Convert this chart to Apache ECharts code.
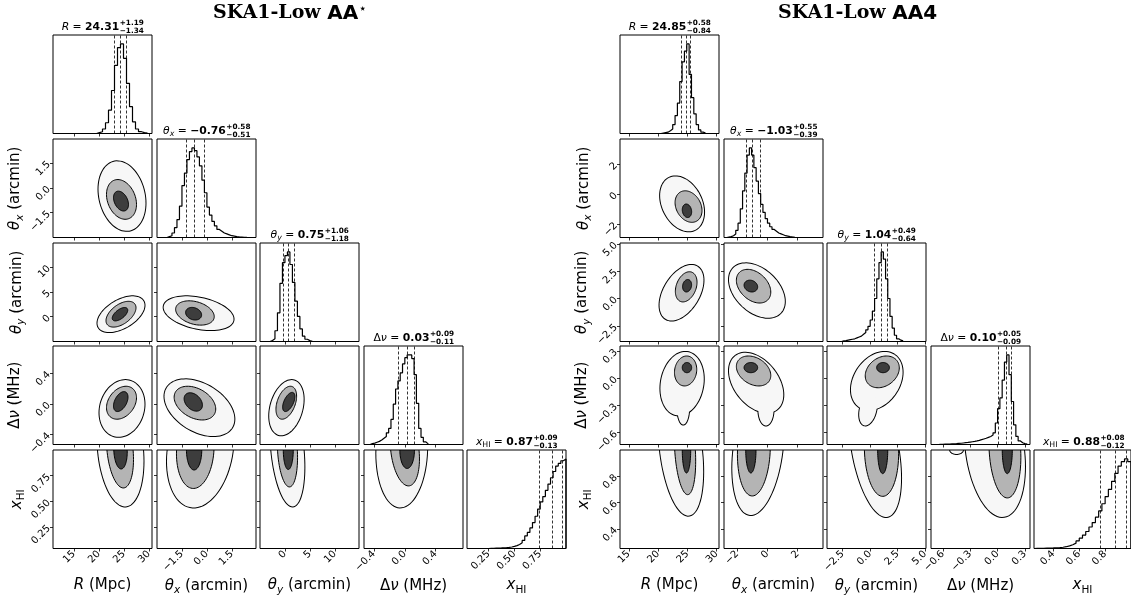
<!DOCTYPE html>
<html>
<head>
<meta charset="utf-8">
<script src="https://cdn.jsdelivr.net/npm/echarts@6/dist/echarts.min.js"></script>
<style>html,body{margin:0;padding:0;background:#fff}#main{width:1131px;height:598px}</style>
</head>
<body>
<div id="main"></div>
<script>
// parameter order: R, theta_x, theta_y, delta_nu, x_HI

// ---- axis ranges and ticks ----
var minL = [10.8, -3.0, -5.0, -0.53, 0.04];
var maxL = [30.6, 2.95, 14.85, 0.755, 1.0];
var ticksL = [[15, 20, 25, 30], [-1.5, 0, 1.5], [0, 5, 10], [-0.4, 0, 0.4], [0.25, 0.5, 0.75]];
var decL = [0, 1, 0, 1, 2];

var minR = [13.5, -2.88, -3.93, -0.73, 0.25];
var maxR = [30.4, 3.68, 5.08, 0.355, 1.0];
var ticksR = [[15, 20, 25, 30], [-2, 0, 2], [-2.5, 0, 2.5, 5], [-0.6, -0.3, 0, 0.3], [0.4, 0.6, 0.8]];
var decR = [0, 0, 1, 1, 1];

// ---- median, +err, -err ----
var summaryL = [[24.31, 1.19, 1.34], [-0.76, 0.58, 0.51], [0.75, 1.06, 1.18], [0.03, 0.09, 0.11], [0.87, 0.09, 0.13]];
var summaryR = [[24.85, 0.58, 0.84], [-1.03, 0.55, 0.39], [1.04, 0.49, 0.64], [0.10, 0.05, 0.09], [0.88, 0.08, 0.12]];

// ---- 1D histograms (first bin edge, bin width, counts) ----
var hStartL = [19.5, -2.4, -3.0, -0.45, 0.25];
var hWidthL = [0.6, 0.15, 0.5, 0.03, 0.025];
var histL_R = [1, 2, 5, 12, 26, 48, 76, 96, 100, 84, 56, 30, 13, 5, 2, 1, 0.5];
var histL_thx = [1, 2, 5, 11, 20, 35, 58, 72, 87, 96, 100, 97, 90, 80, 64, 50, 34, 25, 18, 13, 9, 7, 5, 4, 3, 2, 1.5, 1, 0.7, 0.5, 0.3, 0.2];
var histL_thy = [1, 3, 12, 32, 65, 88, 96, 100, 86, 66, 45, 28, 14, 6, 2.5, 1, 0.3];
var histL_dnu = [1, 1.5, 2.5, 3.5, 5, 7, 9, 13, 18, 28, 45, 62, 71, 80, 90, 97, 100, 100, 96, 78, 46, 18, 8, 3, 1];
var histL_xhi = [0.2, 0.3, 0.4, 0.5, 0.6, 0.8, 1, 1.3, 1.7, 2.3, 3.2, 4.5, 6.5, 9, 14, 18, 23, 29, 36, 44, 52, 58, 65, 72, 79, 86, 92, 95, 98, 100];

var hStartR = [20.5, -2.7, -2.6, -0.65, 0.25];
var hWidthR = [0.4, 0.15, 0.2, 0.025, 0.025];
var histR_R = [0.5, 1, 1.5, 3, 5, 10, 20, 34, 58, 80, 92, 100, 66, 40, 22, 10, 4, 1.5, 0.5];
var histR_thx = [0.5, 1, 2, 4, 8, 16, 32, 52, 72, 92, 100, 92, 78, 63, 49, 37, 28, 21, 16, 12, 9, 7, 5, 4, 3, 2, 1.5, 1, 0.7, 0.5];
var histR_thy = [0.7, 1, 1.5, 2, 2.5, 3, 4, 5, 6, 8, 10, 13, 17, 24, 34, 48, 70, 88, 100, 92, 70, 48, 28, 15, 7, 3, 1.5, 0.7];
var histR_dnu = [0.2, 0.3, 0.35, 0.4, 0.55, 0.7, 0.85, 1, 1.2, 1.4, 1.7, 2, 2.3, 2.7, 3.1, 3.5, 4, 4.6, 5.4, 6.2, 7, 8, 9, 10.5, 13, 24, 40, 52, 72, 92, 100, 78, 48, 22, 9, 4, 2, 1, 0.4];
var histR_xhi = [0.1, 0.2, 0.3, 0.4, 0.5, 0.6, 0.8, 1, 1.4, 2, 3, 4.2, 6, 8.5, 11.5, 15, 19, 24, 29, 35, 42, 50, 58, 66, 75, 84, 92, 97, 100, 97];

// ---- 2D contours: [cx, cy, rx, ry, rho, level] (level 0 outer, 1 mid, 2 inner) ----
var cL_thx_R = [[24.6, -0.5, 4.7, 2.1, -0.2, 0], [24.5, -0.7, 3.0, 1.2, -0.25, 1], [24.4, -0.8, 1.5, 0.6, -0.35, 2]];
var cL_thy_R = [[24.4, 0.5, 4.7, 3.6, 0.5, 0], [24.4, 0.5, 3.0, 2.6, 0.5, 1], [24.2, 0.5, 1.55, 1.35, 0.6, 2]];
var cL_dnu_R = [[24.6, -0.06, 4.5, 0.37, 0.15, 0], [24.5, 0.015, 3.0, 0.215, 0.3, 1], [24.35, 0.03, 1.45, 0.13, 0.45, 2]];
var cL_xhi_R = [[24.3, 1.0, 4.6, 0.55, -0.2, 0], [24.2, 1.0, 2.7, 0.37, -0.25, 1], [24.3, 1.0, 1.35, 0.185, -0.1, 2]];
var cL_thy_thx = [[-0.5, 0.7, 2.1, 3.4, -0.35, 0], [-0.72, 0.75, 1.16, 2.45, -0.3, 1], [-0.8, 0.6, 0.48, 1.27, -0.2, 2]];
var cL_dnu_thx = [[-0.45, -0.05, 2.1, 0.37, -0.4, 0], [-0.72, 0.01, 1.25, 0.22, -0.35, 1], [-0.82, 0.025, 0.55, 0.12, -0.35, 2]];
var cL_xhi_thx = [[-0.4, 1.0, 2.0, 0.56, 0.2, 0], [-0.7, 1.0, 1.13, 0.375, 0.1, 1], [-0.77, 1.0, 0.46, 0.195, 0, 2]];
var cL_dnu_thy = [[0.3, -0.05, 3.45, 0.36, 0.3, 0], [0.27, 0.015, 2.07, 0.215, 0.4, 1], [0.77, 0.025, 1.23, 0.125, 0.55, 2]];
var cL_xhi_thy = [[0.5, 1.0, 3.4, 0.55, -0.3, 0], [0.5, 1.0, 2.03, 0.36, -0.2, 1], [0.67, 1.0, 1.0, 0.19, 0, 2]];
var cL_xhi_dnu = [[-0.04, 1.0, 0.33, 0.56, 0.06, 0], [0.0, 1.0, 0.19, 0.35, -0.25, 1], [0.03, 1.0, 0.095, 0.18, 0, 2]];

var cR_thx_R = [[24.1, -0.64, 3.75, 1.83, -0.3, 0], [25.2, -0.82, 2.3, 1.05, -0.25, 1], [24.93, -1.1, 0.8, 0.45, -0.15, 2]];
var cR_thy_R = [[24.0, 0.53, 3.75, 2.54, 0.45, 0], [24.8, 1.07, 1.85, 1.38, 0.3, 1], [24.95, 1.17, 0.77, 0.57, 0.15, 2]];
var cR_dnu_R = [[24.1, -0.06, 3.7, 0.35, 0.15, 0], [24.3, -0.33, 1.0, 0.18, 0, 0], [24.7, 0.08, 1.9, 0.165, 0.1, 1], [24.93, 0.117, 0.8, 0.056, 0, 2]];
var cR_xhi_R = [[23.9, 1.0, 3.8, 0.5, -0.33, 0], [24.6, 1.0, 1.82, 0.34, -0.25, 1], [24.85, 1.0, 0.72, 0.175, 0, 2]];
var cR_thy_thx = [[-0.7, 0.73, 1.85, 2.49, -0.4, 0], [-0.92, 1.13, 1.14, 1.54, -0.35, 1], [-1.1, 1.14, 0.45, 0.54, -0.15, 2]];
var cR_dnu_thx = [[-0.75, -0.05, 1.8, 0.33, -0.4, 0], [-0.1, -0.35, 0.5, 0.17, 0, 0], [-0.92, 0.08, 1.14, 0.165, -0.3, 1], [-1.1, 0.117, 0.45, 0.056, 0, 2]];
var cR_xhi_thx = [[-0.63, 1.0, 1.7, 0.495, 0.28, 0], [-0.9, 1.0, 1.09, 0.35, 0.1, 1], [-1.1, 1.0, 0.34, 0.175, 0, 2]];
var cR_dnu_thy = [[0.6, -0.03, 2.35, 0.32, 0.3, 0], [-0.2, -0.35, 0.8, 0.17, 0.3, 0], [1.1, 0.07, 1.55, 0.175, 0.25, 1], [1.17, 0.117, 0.58, 0.056, 0, 2]];
var cR_xhi_thy = [[0.46, 1.0, 2.35, 0.51, -0.42, 0], [1.03, 1.0, 1.56, 0.353, -0.07, 1], [1.14, 1.0, 0.46, 0.18, 0, 2]];
var cR_xhi_dnu = [[-0.03, 1.0, 0.33, 0.51, -0.25, 0], [-0.45, 1.0, 0.07, 0.03, 0, 0], [0.08, 1.0, 0.175, 0.365, -0.15, 1], [0.106, 1.0, 0.055, 0.18, 0, 2]];

var FF = 'DejaVu Sans';
var LEVEL_FILL = ['#f7f7f7', '#b4b4b4', '#3d3d3d'];

var axisNames = ['{i|R}{n| (Mpc)}', '{i|θ}{s|x}{n| (arcmin)}', '{i|θ}{s|y}{n| (arcmin)}', '{n|Δ}{i|ν}{n| (MHz)}', '{i|x}{r|HI}'];
var nameStyle = {
  fontSize: 15, fontFamily: FF, color: '#000', lineHeight: 20,
  rich: {
    n: {fontSize: 15, fontFamily: FF, color: '#000', lineHeight: 20},
    i: {fontSize: 15, fontFamily: FF, color: '#000', fontStyle: 'italic', lineHeight: 20},
    s: {fontSize: 10.5, fontFamily: FF, color: '#000', fontStyle: 'italic', verticalAlign: 'bottom', lineHeight: 11},
    r: {fontSize: 10.5, fontFamily: FF, color: '#000', verticalAlign: 'bottom', lineHeight: 11}
  }
};

var titleNames = [[['R', 'i']], [['θ', 'i'], ['x', 'si']], [['θ', 'i'], ['y', 'si']], [['Δ', 'n'], ['ν', 'i']], [['x', 'i'], ['HI', 's']]];
var titleFonts = {
  n: '10.8px ' + FF, i: 'italic 10.8px ' + FF, b: 'bold 10.8px ' + FF,
  s: '7.8px ' + FF, si: 'italic 7.8px ' + FF, e: 'bold 7.3px ' + FF
};

var measureCtx = document.createElement('canvas').getContext('2d');
function textW(str, font) { measureCtx.font = font; return measureCtx.measureText(str).width; }
function minus(s) { return s.replace('-', '\u2212'); }

var option = {
  backgroundColor: '#fff',
  animation: false,
  grid: [], xAxis: [], yAxis: [], series: [],
  graphic: {elements: []}
};

function addText(x, y, str, font) {
  option.graphic.elements.push({
    type: 'text', x: x, y: y, silent: true, z: 100,
    style: {text: str, font: font, fill: '#000', textAlign: 'left', textVerticalAlign: 'middle', align: 'left', verticalAlign: 'middle'}
  });
}

function addTitle(cx, top, pi, sm) {
  var segs = titleNames[pi].concat([[' = ', 'n'], [minus(sm[0].toFixed(2)), 'b']]);
  var up = '+' + sm[1].toFixed(2), dn = '\u2212' + sm[2].toFixed(2);
  var total = 0;
  segs.forEach(function (s) { total += textW(s[0], titleFonts[s[1]]); });
  var ew = Math.max(textW(up, titleFonts.e), textW(dn, titleFonts.e));
  var x = cx - (total + ew) / 2;
  var ym = top - 7.8;
  segs.forEach(function (s) {
    var sub = (s[1] === 's' || s[1] === 'si');
    addText(x, sub ? ym + 2.8 : ym, s[0], titleFonts[s[1]]);
    x += textW(s[0], titleFonts[s[1]]);
  });
  addText(x + 0.5, top - 11.5, up, titleFonts.e);
  addText(x + 0.5, top - 3.6, dn, titleFonts.e);
}

function fmtTick(dec) { return function (v) { return minus(v.toFixed(dec)); }; }

function axisBase(min, max, ticks, dec, showLabel) {
  return {
    type: 'value', min: min, max: max,
    axisLine: {show: false, onZero: false}, splitLine: {show: false},
    axisTick: {show: true, length: 3, customValues: ticks, lineStyle: {color: '#000', width: 0.8}},
    axisLabel: {show: showLabel, customValues: ticks, rotate: 45, fontSize: 10, fontFamily: FF, color: '#000', margin: 4, formatter: fmtTick(dec)}
  };
}

function renderContour(params, api) {
  var cx = api.value(0), cy = api.value(1), rx = api.value(2), ry = api.value(3), rho = api.value(4), lev = api.value(5);
  var s = Math.sqrt(1 - rho * rho);
  var pts = [];
  for (var k = 0; k < 80; k++) {
    var t = k / 80 * 2 * Math.PI;
    pts.push(api.coord([cx + rx * Math.cos(t), cy + ry * (rho * Math.cos(t) + s * Math.sin(t))]));
  }
  if (lev === 0) {
    return {type: 'group', children: [
      {type: 'polygon', z2: 0, shape: {points: pts}, style: {fill: 'none', stroke: '#000', lineWidth: 2}},
      {type: 'polygon', z2: 1, shape: {points: pts}, style: {fill: LEVEL_FILL[0], stroke: 'none'}}
    ]};
  }
  return {type: 'polygon', z2: 1 + lev, shape: {points: pts}, style: {fill: LEVEL_FILL[lev], stroke: '#000', lineWidth: 1}};
}

function buildCorner(cfg) {
  for (var r = 0; r < 5; r++) {
    for (var c = 0; c <= r; c++) {
      var gi = option.grid.length;
      var left = Math.round(cfg.originX + c * 103.5);
      var top = Math.round(35 + r * 103.75);
      option.grid.push({left: left, top: top, width: 99, height: 98.5, show: true,
        borderColor: '#000', borderWidth: 1, backgroundColor: 'transparent', z: 10});

      var xa = axisBase(cfg.mins[c], cfg.maxs[c], cfg.ticks[c], cfg.decs[c], r === 4);
      xa.gridIndex = gi;
      if (r === 4) {
        xa.name = axisNames[c]; xa.nameLocation = 'middle'; xa.nameGap = 27; xa.nameTextStyle = nameStyle;
      }
      option.xAxis.push(xa);

      if (r === c) {
        var counts = cfg.hists[c];
        var st = cfg.hStart[c], w = cfg.hWidth[c];
        var data = [[st, 0]];
        for (var k = 0; k < counts.length; k++) data.push([st + k * w, counts[k]]);
        data.push([st + counts.length * w, 0]);
        option.yAxis.push({gridIndex: gi, type: 'value', min: 0, max: Math.max.apply(null, counts) * 1.1, show: false});
        var sm = cfg.summary[c];
        option.series.push({
          type: 'line', xAxisIndex: gi, yAxisIndex: gi, data: data, step: 'end',
          symbol: 'none', silent: true, lineStyle: {color: '#000', width: 1.2},
          markLine: {
            silent: true, symbol: ['none', 'none'], label: {show: false},
            lineStyle: {color: '#000', type: [3, 2], width: 0.8},
            data: [{xAxis: sm[0] - sm[2]}, {xAxis: sm[0]}, {xAxis: sm[0] + sm[1]}]
          }
        });
        addTitle(left + 49.5, top, c, sm);
      } else {
        var ya = axisBase(cfg.mins[r], cfg.maxs[r], cfg.ticks[r], cfg.decs[r], c === 0);
        ya.gridIndex = gi;
        if (c === 0) {
          ya.name = axisNames[r]; ya.nameLocation = 'middle'; ya.nameGap = 26; ya.nameRotate = 90; ya.nameTextStyle = nameStyle;
        }
        option.yAxis.push(ya);
        option.series.push({
          type: 'custom', xAxisIndex: gi, yAxisIndex: gi, clip: true, silent: true,
          renderItem: renderContour, data: cfg.contours[r + '_' + c]
        });
      }
    }
  }
}

buildCorner({
  originX: 53, mins: minL, maxs: maxL, ticks: ticksL, decs: decL, summary: summaryL,
  hStart: hStartL, hWidth: hWidthL, hists: [histL_R, histL_thx, histL_thy, histL_dnu, histL_xhi],
  contours: {'1_0': cL_thx_R, '2_0': cL_thy_R, '3_0': cL_dnu_R, '4_0': cL_xhi_R,
    '2_1': cL_thy_thx, '3_1': cL_dnu_thx, '4_1': cL_xhi_thx, '3_2': cL_dnu_thy, '4_2': cL_xhi_thy, '4_3': cL_xhi_dnu}
});
buildCorner({
  originX: 620, mins: minR, maxs: maxR, ticks: ticksR, decs: decR, summary: summaryR,
  hStart: hStartR, hWidth: hWidthR, hists: [histR_R, histR_thx, histR_thy, histR_dnu, histR_xhi],
  contours: {'1_0': cR_thx_R, '2_0': cR_thy_R, '3_0': cR_dnu_R, '4_0': cR_xhi_R,
    '2_1': cR_thy_thx, '3_1': cR_dnu_thx, '4_1': cR_xhi_thx, '3_2': cR_dnu_thy, '4_2': cR_xhi_thy, '4_3': cR_xhi_dnu}
});

// main titles: serif prefix, bold sans array name
var serifFont = 'bold 19px DejaVu Serif';
var sansFont = 'bold 20px ' + FF;
function addMainTitle(x0, arrayName, star) {
  addText(x0, 13.5, 'SKA1-Low ', serifFont);
  var x1 = x0 + textW('SKA1-Low ', serifFont);
  addText(x1, 13.5, arrayName, sansFont);
  if (star) addText(x1 + textW(arrayName, sansFont) + 1, 9, '\u22c6', 'bold 11px ' + FF);
}
addMainTitle(213, 'AA', true);
addMainTitle(778, 'AA4', false);

var myChart = echarts.init(document.getElementById('main'));
myChart.setOption(option);
</script>
</body>
</html>
